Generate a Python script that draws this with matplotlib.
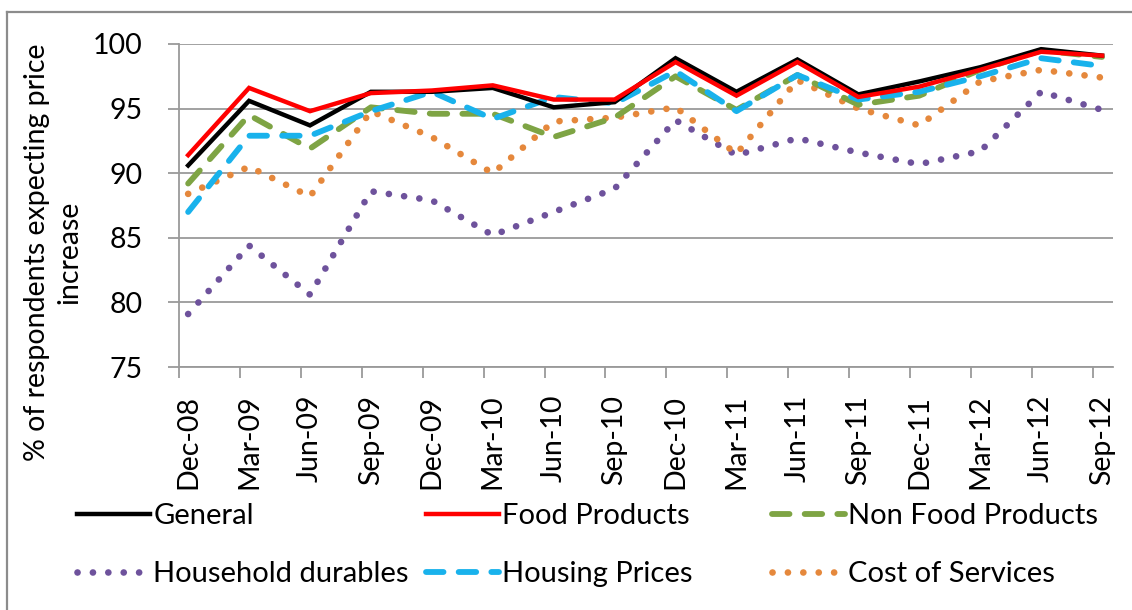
import matplotlib
matplotlib.use("Agg")
import matplotlib.pyplot as plt
from matplotlib.lines import Line2D
import numpy as np

plt.rcParams['font.family'] = ['Lato', 'DejaVu Sans']

quarters = ["Dec-08", "Mar-09", "Jun-09", "Sep-09", "Dec-09", "Mar-10", "Jun-10", "Sep-10",
            "Dec-10", "Mar-11", "Jun-11", "Sep-11", "Dec-11", "Mar-12", "Jun-12", "Sep-12"]

general = [90.6, 95.6, 93.7, 96.3, 96.3, 96.6, 95.1, 95.5, 98.9, 96.3, 98.8, 96.1, 97.1, 98.2, 99.6, 99.1]
food = [91.4, 96.6, 94.8, 96.2, 96.4, 96.8, 95.7, 95.7, 98.6, 96.0, 98.6, 95.9, 96.7, 98.0, 99.4, 99.1]
non_food = [89.2, 94.5, 91.9, 95.1, 94.6, 94.6, 92.8, 94.3, 97.5, 94.9, 97.6, 95.3, 96.0, 98.0, 99.5, 99.0]
household = [79.1, 84.4, 80.6, 88.6, 87.9, 85.2, 87.0, 88.8, 94.1, 91.4, 92.7, 91.6, 90.7, 91.7, 96.3, 94.9]
housing = [87.0, 92.9, 92.9, 94.8, 96.3, 94.2, 95.9, 95.4, 97.9, 94.8, 97.6, 95.7, 96.3, 97.5, 98.9, 98.3]
services = [88.4, 90.5, 88.2, 94.8, 92.8, 90.0, 94.0, 94.3, 95.1, 91.5, 97.2, 95.0, 93.7, 97.1, 98.0, 97.4]

W, H = 1132, 610
fig = plt.figure(figsize=(W / 100, H / 100), dpi=100)
ax = fig.add_axes([179 / W, 1 - 367 / H, (1113 - 179) / W, (367 - 44) / H])

x = np.arange(len(quarters))
grey = '#9a9a9a'

l_gen, = ax.plot(x, general, color='black', lw=3.2, solid_joinstyle='miter', label='General', zorder=5)
l_food, = ax.plot(x, food, color='#ff0000', lw=3.2, solid_joinstyle='miter', label='Food Products', zorder=6)
l_nf, = ax.plot(x, non_food, color='#7ea444', lw=4.2, dashes=(3.0, 2.6), dash_capstyle='round',
                label='Non Food Products', zorder=4)
l_hh, = ax.plot(x, household, color='#6e529c', lw=4.8, dashes=(0.01, 2.3), dash_capstyle='round',
                label='Household durables', zorder=3)
l_hp, = ax.plot(x, housing, color='#19b2ec', lw=4.2, dashes=(3.0, 2.6), dash_capstyle='round',
                label='Housing Prices', zorder=4)
l_sv, = ax.plot(x, services, color='#e5883c', lw=4.8, dashes=(0.01, 2.3), dash_capstyle='round',
                label='Cost of Services', zorder=3)

ax.set_ylim(75, 100)
ax.set_xlim(-0.15, 15.18)
ax.set_yticks([75, 80, 85, 90, 95, 100])
ax.yaxis.grid(True, color=grey, lw=1.3)
ax.set_axisbelow(True)

# tick marks between label positions (offset as in the reference), labels at categories
ax.set_xticks(x)
ax.set_xticklabels(quarters, rotation=90, fontsize=20.5)
ax.tick_params(axis='x', which='major', length=0, pad=20)
ax.set_xticks(x - 0.15, minor=True)
ax.tick_params(axis='x', which='minor', length=8, width=1.3, color=grey, direction='out')
ax.tick_params(axis='y', length=8, width=1.3, color=grey, labelsize=20.5, pad=18)

for s in ['top', 'right']:
    ax.spines[s].set_visible(False)
for s in ['left', 'bottom']:
    ax.spines[s].set_color(grey)
    ax.spines[s].set_linewidth(1.3)

fig.text(53 / W, 1 - 252 / H, "% of respondents expecting price\nincrease", rotation=90,
         ha='center', va='center', fontsize=20.5, linespacing=1.3, multialignment='center')

# legend: three columns placed like the reference
cols = [((l_gen, l_hh), 77), ((l_food, l_hp), 426), ((l_nf, l_sv), 772)]
for handles, xpos in cols:
    fig.legend(handles=list(handles), labels=[h.get_label() for h in handles],
               loc='upper left', bbox_to_anchor=(xpos / W, 1 - 503 / H),
               frameon=False, fontsize=21, handlelength=2.5, handletextpad=0.12,
               borderpad=0, borderaxespad=0, labelspacing=1.1)

# outer frame (top and left edges visible in the reference)
fig.add_artist(Line2D([7 / W, 1], [1 - 12 / H, 1 - 12 / H], color='#8c8c8c', lw=1.6, transform=fig.transFigure))
fig.add_artist(Line2D([7 / W, 7 / W], [0, 1 - 12 / H], color='#8c8c8c', lw=1.6, transform=fig.transFigure))

fig.savefig("out.png", dpi=100)
